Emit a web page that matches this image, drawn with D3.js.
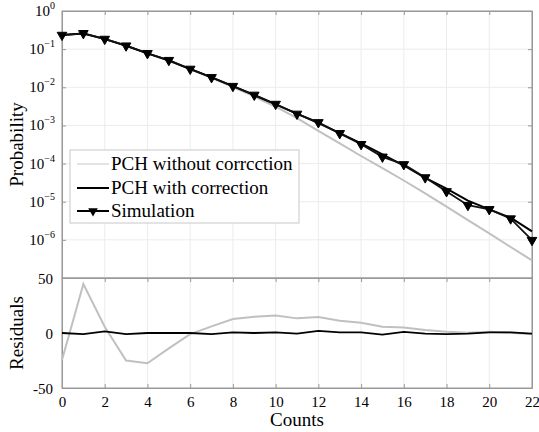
<!DOCTYPE html>
<html>
<head>
<meta charset="utf-8">
<script src="https://cdn.jsdelivr.net/npm/d3@7"></script>
<style>
  body { margin: 0; background: #fff; }
  svg text { font-family: "Liberation Serif", "DejaVu Serif", serif; fill: #000; }
</style>
</head>
<body>
<script>
// counts on the x axis
var counts = d3.range(0, 23);

// probabilities
var simulation = [0.234, 0.260, 0.184, 0.123, 0.0776, 0.0513, 0.0302, 0.0182, 0.0107, 0.0063,
  0.00363, 0.0020, 0.0012, 6.2e-4, 3.2e-4, 1.5e-4, 9.5e-5, 4.3e-5, 1.86e-5, 8.1e-6,
  6.3e-6, 3.6e-6, 9.8e-7];
var withCorrection = [0.234, 0.257, 0.186, 0.123, 0.0776, 0.0501, 0.0302, 0.0182, 0.0107, 0.0062,
  0.00355, 0.00204, 0.00115, 6.3e-4, 3.4e-4, 1.74e-4, 8.9e-5, 4.2e-5, 2.2e-5, 1.07e-5,
  6.3e-6, 3.8e-6, 1.66e-6];
var withoutCorrection = [0.234, 0.257, 0.184, 0.123, 0.0776, 0.0501, 0.0302, 0.0178, 0.0102, 0.00575,
  0.00309, 0.00155, 7.2e-4, 3.4e-4, 1.58e-4, 7.6e-5, 3.6e-5, 1.66e-5, 7.4e-6, 3.3e-6,
  1.48e-6, 6.5e-7, 2.9e-7];

// residuals
var residWithout = [-24.5, 44.5, 5.7, -25, -27.5, -14, -1, 6, 12.7, 14.8,
  15.8, 13.3, 14.5, 11.2, 9.4, 5.7, 5.1, 2.7, 1.2, 0.3,
  1.2, 0.3, -1.2];
var residWith = [0, -1, 1.5, -1, 0, 0, 0, -1, 0.5, 0,
  0.5, -0.5, 2, 0.5, 0.5, -1.5, 1, -0.5, -1, -0.5,
  0.5, 0.5, -0.5];

// tick values
var xTicks = [0, 2, 4, 6, 8, 10, 12, 14, 16, 18, 20, 22];
var yExponents = [0, -1, -2, -3, -4, -5, -6];
var residTicks = [-50, 0, 50];

var legendLabels = ["PCH without corrcction", "PCH with correction", "Simulation"];

var W = 539, H = 432;
var left = 62, right = 532;
var topY0 = 11, topY1 = 278, botY1 = 388;
var serif = '"Liberation Serif", "DejaVu Serif", serif';

var svg = d3.select("body").append("svg")
    .attr("width", W)
    .attr("height", H)
    .attr("font-family", serif);

var x = d3.scaleLinear().domain([0, 22]).range([left, right]);
var y = d3.scaleLog().domain([1e-7, 1]).range([topY1, topY0]);
var yr = d3.scaleLinear().domain([-50, 50]).range([botY1, topY1]);

var axisColor = "#999";
var gridColor = "#ececec";

// grid lines
var grid = svg.append("g");
grid.selectAll(".vg").data(xTicks).enter().append("line")
    .attr("x1", d => x(d)).attr("x2", d => x(d))
    .attr("y1", topY0).attr("y2", botY1)
    .attr("stroke", gridColor);
grid.selectAll(".hg").data(yExponents).enter().append("line")
    .attr("x1", left).attr("x2", right)
    .attr("y1", d => y(Math.pow(10, d))).attr("y2", d => y(Math.pow(10, d)))
    .attr("stroke", gridColor);

// top panel axes
var tickLen = 4;
function styleAxis(g) {
  g.attr("font-family", serif);
  g.selectAll("path").attr("stroke", axisColor);
  g.selectAll("line").attr("stroke", axisColor);
}

svg.append("g")
    .attr("transform", "translate(0," + topY0 + ")")
    .call(d3.axisBottom(x).tickValues(xTicks).tickSize(tickLen).tickSizeOuter(0).tickFormat(""))
    .call(styleAxis);

svg.append("g")
    .attr("transform", "translate(" + right + ",0)")
    .call(d3.axisLeft(y).tickValues(yExponents.map(e => Math.pow(10, e))).tickSize(tickLen).tickSizeOuter(0).tickFormat(""))
    .call(styleAxis);

svg.append("g")
    .attr("transform", "translate(" + left + ",0)")
    .call(d3.axisRight(y).tickValues(yExponents.map(e => Math.pow(10, e))).tickSize(tickLen).tickSizeOuter(0).tickFormat(""))
    .call(styleAxis);

// decade labels with superscripts
var decLabels = svg.append("g");
yExponents.forEach(function(e) {
  var t = decLabels.append("text")
      .attr("x", left - 7)
      .attr("y", y(Math.pow(10, e)) + 5)
      .attr("text-anchor", "end")
      .style("font-size", "15px");
  t.append("tspan").text("10");
  t.append("tspan").attr("dy", -7).style("font-size", "10px").text(e === 0 ? "0" : "\u2212" + (-e));
});

// bottom panel axes
svg.append("g")
    .attr("transform", "translate(0," + topY1 + ")")
    .call(d3.axisBottom(x).tickValues(xTicks).tickSize(tickLen).tickSizeOuter(0).tickFormat(""))
    .call(styleAxis);

svg.append("g")
    .attr("transform", "translate(0," + botY1 + ")")
    .call(d3.axisTop(x).tickValues(xTicks).tickSize(tickLen).tickSizeOuter(0).tickFormat(""))
    .call(styleAxis)
    .call(g => g.selectAll(".tick").append("text")
      .attr("y", 19)
      .attr("text-anchor", "middle")
      .attr("fill", "#000")
      .style("font-size", "15px")
      .text(d => d));

svg.append("g")
    .attr("transform", "translate(" + left + ",0)")
    .call(d3.axisRight(yr).tickValues(residTicks).tickSize(tickLen).tickSizeOuter(0).tickFormat(""))
    .call(styleAxis)
    .call(g => g.selectAll(".tick").append("text")
      .attr("x", -tickLen - 5)
      .attr("dy", "0.35em")
      .attr("text-anchor", "end")
      .attr("fill", "#000")
      .style("font-size", "15px")
      .text(d => d));

svg.append("g")
    .attr("transform", "translate(" + right + ",0)")
    .call(d3.axisLeft(yr).tickValues(residTicks).tickSize(tickLen).tickSizeOuter(0).tickFormat(""))
    .call(styleAxis);

// frames
svg.append("rect")
    .attr("x", left).attr("y", topY0)
    .attr("width", right - left).attr("height", topY1 - topY0)
    .attr("fill", "none").attr("stroke", axisColor);
svg.append("rect")
    .attr("x", left).attr("y", topY1)
    .attr("width", right - left).attr("height", botY1 - topY1)
    .attr("fill", "none").attr("stroke", axisColor);

// top panel lines
var lineTop = d3.line()
    .x((d, i) => x(counts[i]))
    .y(d => y(d));

svg.append("path").datum(withoutCorrection)
    .attr("d", lineTop)
    .attr("fill", "none")
    .attr("stroke", "#c0c0c0")
    .attr("stroke-width", 2);

svg.append("path").datum(withCorrection)
    .attr("d", lineTop)
    .attr("fill", "none")
    .attr("stroke", "#000")
    .attr("stroke-width", 2);

svg.append("path").datum(simulation)
    .attr("d", lineTop)
    .attr("fill", "none")
    .attr("stroke", "#111")
    .attr("stroke-width", 1.8);

var tri = d3.symbol().type(d3.symbolTriangle).size(40);
svg.selectAll(".marker").data(simulation).enter().append("path")
    .attr("class", "marker")
    .attr("d", tri)
    .attr("transform", (d, i) => "translate(" + x(counts[i]) + "," + y(d) + ") rotate(180)")
    .attr("fill", "#000")
    .attr("stroke", "#000")
    .attr("stroke-width", 1);

// residual lines
var lineBot = d3.line()
    .x((d, i) => x(counts[i]))
    .y(d => yr(d));

svg.append("path").datum(residWithout)
    .attr("d", lineBot)
    .attr("fill", "none")
    .attr("stroke", "#c0c0c0")
    .attr("stroke-width", 2);

svg.append("path").datum(residWith)
    .attr("d", lineBot)
    .attr("fill", "none")
    .attr("stroke", "#000")
    .attr("stroke-width", 1.8);

// legend
var lg = svg.append("g");
lg.append("rect")
    .attr("x", 70).attr("y", 150)
    .attr("width", 229).attr("height", 73)
    .attr("fill", "#fff")
    .attr("stroke", "#c8c8c8");

var rowY = [164, 188, 211];
var rowColor = ["#c8c8c8", "#000", "#000"];
legendLabels.forEach(function(lbl, i) {
  lg.append("line")
      .attr("x1", 77).attr("x2", 109)
      .attr("y1", rowY[i]).attr("y2", rowY[i])
      .attr("stroke", rowColor[i])
      .attr("stroke-width", i === 0 ? 1 : 2);
  if (i === 2) {
    lg.append("path")
        .attr("d", tri)
        .attr("transform", "translate(93," + rowY[i] + ") rotate(180)")
        .attr("fill", "#000");
  }
  lg.append("text")
      .attr("x", 111)
      .attr("y", rowY[i] + 6)
      .style("font-size", "19px")
      .text(lbl);
});

// axis titles
svg.append("text")
    .attr("transform", "translate(23," + ((topY0 + topY1) / 2) + ") rotate(-90)")
    .attr("text-anchor", "middle")
    .style("font-size", "19px")
    .text("Probability");

svg.append("text")
    .attr("transform", "translate(23," + yr(0) + ") rotate(-90)")
    .attr("text-anchor", "middle")
    .style("font-size", "19px")
    .text("Residuals");

svg.append("text")
    .attr("x", (left + right) / 2)
    .attr("y", 426)
    .attr("text-anchor", "middle")
    .style("font-size", "19px")
    .text("Counts");
</script>
</body>
</html>
